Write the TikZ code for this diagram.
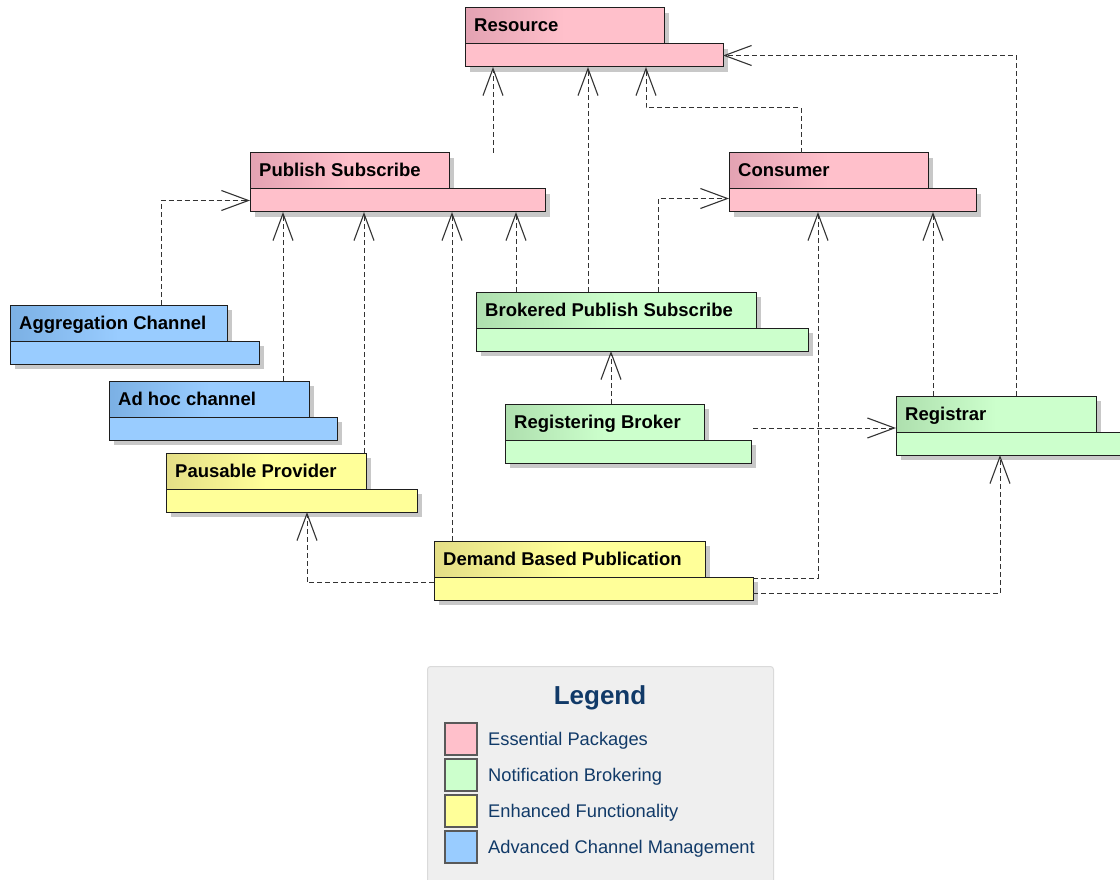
\documentclass[tikz,border=0pt]{standalone}
\usepackage{fontspec}
\setmainfont{Liberation Sans}
\usetikzlibrary{arrows.meta,calc,shadows}

% package colours: light body, darker start of the tab gradient
\definecolor{pinkL}{HTML}{FFC0CB}
\definecolor{pinkD}{HTML}{E3A2B2}
\definecolor{greenL}{HTML}{CCFFCC}
\definecolor{greenD}{HTML}{AEDFAE}
\definecolor{yellowL}{HTML}{FFFF99}
\definecolor{yellowD}{HTML}{E4DE86}
\definecolor{blueL}{HTML}{99CCFF}
\definecolor{blueD}{HTML}{7BB0E4}
\definecolor{edge}{HTML}{1E1E1E}
\definecolor{shadowgray}{HTML}{C8C8C8}
\definecolor{depline}{HTML}{333333}
\definecolor{legendbg}{HTML}{EFEFEF}
\definecolor{legendrule}{HTML}{DADADA}
\definecolor{legendink}{HTML}{113A68}

\tikzset{
  pkgpart/.style={draw=edge, line width=1pt, inner sep=0pt, outer sep=0pt,
    anchor=north west,
    drop shadow={shadow xshift=5pt, shadow yshift=-5pt, fill=shadowgray, opacity=1}},
  pkgtab/.style={pkgpart, minimum height=36},
  pkgbody/.style={pkgpart, minimum height=23},
  pkgname/.style={inner sep=0pt, anchor=base west,
    font=\bfseries\fontsize{18.5}{22}\selectfont},
  dep/.style={draw=depline, line width=1pt, dash pattern=on 5pt off 3pt,
    -{Straight Barb[length=27pt, width=20pt, line width=1.1pt]}},
  swatch/.style={draw=black!65, line width=1.2pt, minimum size=32, inner sep=0pt},
  legtext/.style={inner sep=0pt, anchor=base west, text=legendink,
    font=\fontsize{18.3}{22}\selectfont},
}

% \umlpackage{name}{x}{y}{tab width}{body width}{colour}{label}
\newcommand{\umlpackage}[7]{%
  \node[pkgtab, minimum width=#4, left color=#6D, right color=#6L, middle color=#6L]
    (#1) at (#2,#3) {};
  \node[pkgbody, minimum width=#5, fill=#6L] (#1b) at (#1.south west) {};
  \node[pkgname] (#1t) at ($(#1.north west)+(9,24)$) {#7};
}

\begin{document}
\begin{tikzpicture}[x=1pt, y=-1pt]
  \useasboundingbox (0,0) rectangle (1120,880);

  % packages
  \umlpackage{res}{465}{8}{199}{258}{pink}{Resource}
  \umlpackage{ps}{250}{153}{199}{295}{pink}{Publish Subscribe}
  \umlpackage{con}{729}{153}{199}{247}{pink}{Consumer}
  \umlpackage{agg}{10}{305}{217}{249}{blue}{Aggregation Channel}
  \umlpackage{adh}{109}{381}{200}{228}{blue}{Ad hoc channel}
  \umlpackage{pp}{166}{453}{200}{251}{yellow}{Pausable Provider}
  \umlpackage{bps}{476}{292}{280}{332}{green}{Brokered Publish Subscribe}
  \umlpackage{rb}{505}{404}{199}{246}{green}{Registering Broker}
  \umlpackage{reg}{896}{396}{200}{240}{green}{Registrar}
  \umlpackage{dbp}{434}{541}{271}{319}{yellow}{Demand Based Publication}

  % dependencies towards Resource
  \draw[dep] ($(ps.north east)+(44,0)$) coordinate (d1) -- (d1 |- resb.south);
  \draw[dep] ($(bps.north west)+(112,0)$) coordinate (d2) -- (d2 |- resb.south);
  \draw[dep] ($(con.north west)+(72,0)$) -- ++(0,-45) -| ($(resb.south west)+(181,0)$);
  \draw[dep] ($(reg.north west)+(120,0)$) |- (resb.east);

  % dependencies towards Publish Subscribe
  \draw[dep] ($(agg.north west)+(151,0)$) |- (psb.west);
  \draw[dep] ($(adh.north west)+(174,0)$) coordinate (d5) -- (d5 |- psb.south);
  \draw[dep] ($(pp.north west)+(198,0)$) coordinate (d6) -- (d6 |- psb.south);
  \draw[dep] ($(dbp.north west)+(18,0)$) coordinate (d7) -- (d7 |- psb.south);
  \draw[dep] ($(bps.north west)+(40,0)$) coordinate (d8) -- (d8 |- psb.south);

  % dependencies towards Consumer
  \draw[dep] ($(bps.north west)+(182,0)$) |- ($(conb.west)+(0,-2)$);
  \draw[dep] ($(reg.north west)+(37,0)$) coordinate (d9) -- (d9 |- conb.south);
  \draw[dep] ($(dbpb.north east)+(0,1)$) -| ($(conb.south west)+(89,0)$);

  % remaining dependencies
  \draw[dep] ($(rb.north west)+(106,0)$) coordinate (d10) -- (d10 |- bpsb.south);
  \draw[dep] ($(rbb.north east)+(2,-12)$) coordinate (d11) -- (d11 -| reg.west);
  \draw[dep] ($(dbpb.east)+(0,5)$) -| ($(regb.south west)+(104,0)$);
  \draw[dep] ($(dbpb.west)+(0,-6)$) -| ($(ppb.south west)+(141,0)$);

  % legend
  \node[draw=legendrule, fill=legendbg, line width=1pt, rounded corners=3pt,
        anchor=north west, minimum width=346, minimum height=240, inner sep=0pt]
        (legend) at (427,666) {};
  \node[inner sep=0pt, anchor=base, text=legendink,
        font=\bfseries\fontsize{26}{30}\selectfont] (legendtitle) at (600,704) {Legend};
  \node[swatch, fill=pinkL]   (sw1) at (461,739) {};
  \node[swatch, fill=greenL]  (sw2) at (461,775) {};
  \node[swatch, fill=yellowL] (sw3) at (461,811) {};
  \node[swatch, fill=blueL]   (sw4) at (461,847) {};
  \node[legtext] (lt1) at ($(sw1.center)+(27,6.5)$) {Essential Packages};
  \node[legtext] (lt2) at ($(sw2.center)+(27,6.5)$) {Notification Brokering};
  \node[legtext] (lt3) at ($(sw3.center)+(27,6.5)$) {Enhanced Functionality};
  \node[legtext] (lt4) at ($(sw4.center)+(27,6.5)$) {Advanced Channel Management};
\end{tikzpicture}
\end{document}
